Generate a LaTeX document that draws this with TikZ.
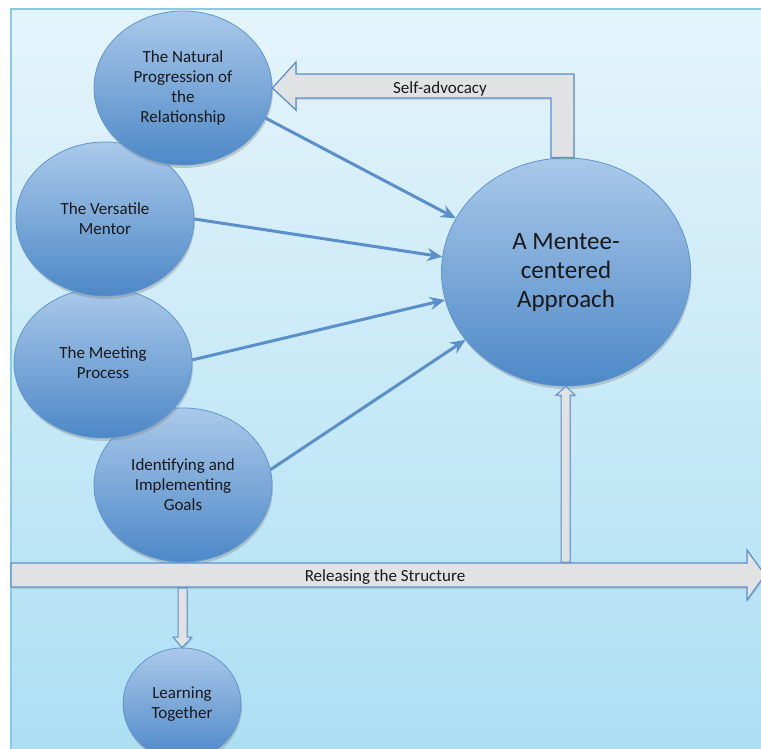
\documentclass[tikz,border=0pt]{standalone}
\usepackage{fontspec}
\setmainfont{Carlito}
\usetikzlibrary{shapes.geometric,shadows,arrows.meta}

\definecolor{panelTop}{HTML}{E5F4FB}
\definecolor{panelBot}{HTML}{ACDFF3}
\definecolor{panelLine}{HTML}{86CDE0}
\definecolor{bubbleTop}{HTML}{AAC9EA}
\definecolor{bubbleBot}{HTML}{4D88C7}
\definecolor{bubbleLine}{HTML}{6096CE}
\definecolor{linkBlue}{HTML}{5A8FCA}
\definecolor{bandFill}{HTML}{E1E2E4}

\tikzset{
  bubble/.style={ellipse, draw=bubbleLine, line width=0.8pt,
    top color=bubbleTop, bottom color=bubbleBot, inner sep=0pt,
    align=center, text=black!90,
    font=\fontsize{17}{20}\selectfont,
    drop shadow={opacity=0.35, shadow xshift=1pt, shadow yshift=-3pt}},
  link/.style={draw=linkBlue, line width=3pt,
    -{Stealth[length=15pt, width=13pt, inset=5pt]}},
  band/.style={fill=bandFill, draw=linkBlue, line width=1.2pt,
    drop shadow={opacity=0.25, shadow xshift=1pt, shadow yshift=-2pt}},
  bandtext/.style={font=\fontsize{17}{20}\selectfont, text=black!90}
}

\begin{document}
\begin{tikzpicture}[x=1pt,y=-1pt]
\useasboundingbox (0,0) rectangle (761,749);
\clip (0,0) rectangle (761,749);
\fill[white] (0,0) rectangle (761,749);
% panel
\shade[top color=panelTop, bottom color=panelBot] (11,9) rectangle (775,760);
\draw[panelLine, line width=1.2pt] (11,760) -- (11,9) -- (775,9);

% bubbles, lowest first so the upper ones lie on top
\node[bubble, minimum width=118pt, minimum height=112pt] (learn) at (182,704) {Learning\\Together};
\node[bubble, minimum width=178pt, minimum height=154pt] (goals) at (183,485) {Identifying and\\Implementing\\Goals};
\node[bubble, minimum width=178pt, minimum height=150pt] (meet) at (103,363) {The Meeting\\Process};
\node[bubble, minimum width=178pt, minimum height=154pt] (vers) at (105,219) {The Versatile\\Mentor};
\node[bubble, minimum width=178pt, minimum height=154pt] (nat) at (183,88) {The Natural\\Progression of\\the\\Relationship};
\node[bubble, minimum width=249pt, minimum height=228pt,
  font=\fontsize{25}{29}\selectfont] (mentee) at (566,272) {A Mentee-\\centered\\Approach};

% block arrows
\draw[band] (nat.east) -- (296,62) -- (296,74) -- (574,74) -- (574,0 |- mentee.north)
  -- (551,0 |- mentee.north) -- (551,98) -- (296,98) -- (296,110) -- cycle;
\node[bandtext] (selfadv) at (440,89) {Self-advocacy};

\draw[band] (11,563) -- (747,563) -- (747,550) -- (765,575) -- (747,600)
  -- (747,587) -- (11,587) -- cycle;
\node[bandtext] (release) at (385,577) {Releasing the Structure};

\draw[band, line width=1pt] (561,562) -- (561,395) -- (556,395) -- (mentee.south)
  -- (575,395) -- (570,395) -- (570,562) -- cycle;
\draw[band, line width=1pt] (178,588) -- (178,637) -- (173,637) -- (learn.north)
  -- (192,637) -- (187,637) -- (187,588) -- cycle;

% links into the centre
\draw[link] (nat.-20) -- (mentee.154);
\draw[link] (vers.east) -- (mentee.173);
\draw[link] (meet.2) -- (mentee.193);
\draw[link] (goals.10) -- (mentee.214);
\end{tikzpicture}
\end{document}
